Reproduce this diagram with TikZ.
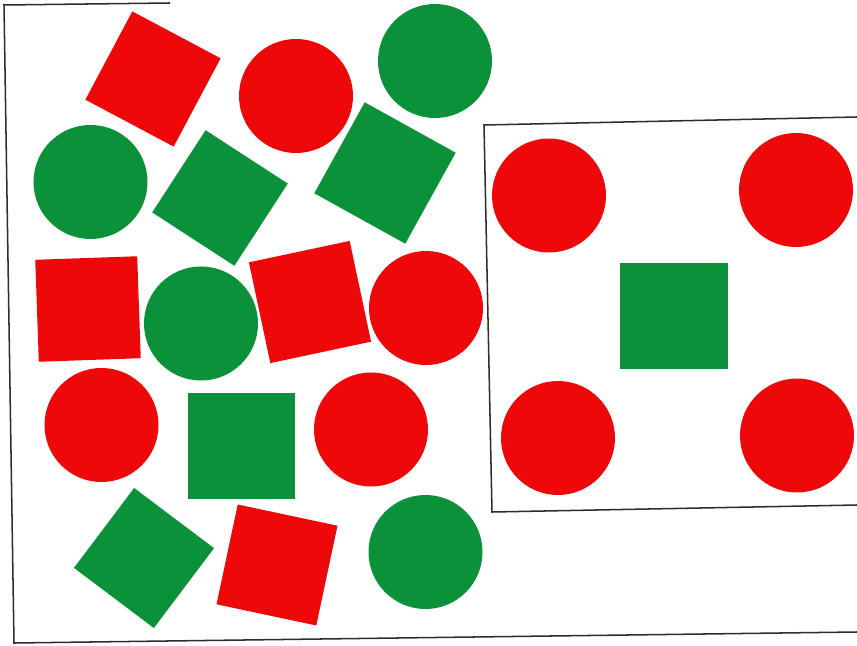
\documentclass[tikz,border=0pt]{standalone}
\definecolor{shred}{RGB}{238,8,10}
\definecolor{shgreen}{RGB}{10,145,58}
\definecolor{frameline}{RGB}{45,45,45}
\tikzset{
  rsq/.style={fill=shred, draw=none, inner sep=0pt, minimum size=#1},
  gsq/.style={fill=shgreen, draw=none, inner sep=0pt, minimum size=#1},
  rci/.style={circle, fill=shred, draw=none, inner sep=0pt, minimum size=3.42cm},
  gci/.style={circle, fill=shgreen, draw=none, inner sep=0pt, minimum size=3.42cm},
  frame/.style={draw=frameline, line width=1.3pt},
}
\begin{document}
\begin{tikzpicture}[x=0.03cm, y=-0.03cm]
\useasboundingbox (0,0) rectangle (857,646);
% outer frame (open)
\coordinate (ftl) at (4,5);
\coordinate (ftt) at (170,3);
\coordinate (fbl) at (14,643);
\coordinate (fbr) at (857,632);
\draw[frame] (ftt) -- (ftl) -- (fbl) -- (fbr);
% right box (open on the right)
\coordinate (btr) at (857,117);
\coordinate (btl) at (484,125);
\coordinate (bbl) at (492,512);
\coordinate (bbr) at (857,505);
\draw[frame] (btr) -- (btl) -- (bbl) -- (bbr);
% left group: squares
\node[rsq=3.0cm, rotate=-28] (s1) at (153,79) {};
\node[gsq=2.94cm, rotate=-33] (s2) at (220,198) {};
\node[gsq=3.12cm, rotate=-29] (s3) at (385,173) {};
\node[rsq=3.06cm, rotate=2] (s4) at (88,309) {};
\node[rsq=3.09cm, rotate=12] (s5) at (310,302) {};
\node[gsq=3.18cm] (s6) at (241.5,446) {};
\node[gsq=3.0cm, rotate=-37] (s7) at (144,558) {};
\node[rsq=3.06cm, rotate=-12] (s8) at (277,565) {};
% left group: circles
\node[rci] (c1) at (296,96) {};
\node[gci] (c2) at (435,61) {};
\node[gci] (c3) at (90.5,182) {};
\node[gci] (c4) at (201,323.5) {};
\node[rci] (c5) at (426,308) {};
\node[rci] (c6) at (101.5,425) {};
\node[rci] (c7) at (371,429.5) {};
\node[gci] (c8) at (425.5,552) {};
% right box contents
\node[rci] (r1) at (549,195.5) {};
\node[rci] (r2) at (796,190) {};
\node[rci] (r3) at (558,438) {};
\node[rci] (r4) at (797,435.5) {};
\node[fill=shgreen, draw=none, inner sep=0pt, minimum width=3.24cm, minimum height=3.18cm] (rs) at (673.5,316) {};
\end{tikzpicture}
\end{document}
